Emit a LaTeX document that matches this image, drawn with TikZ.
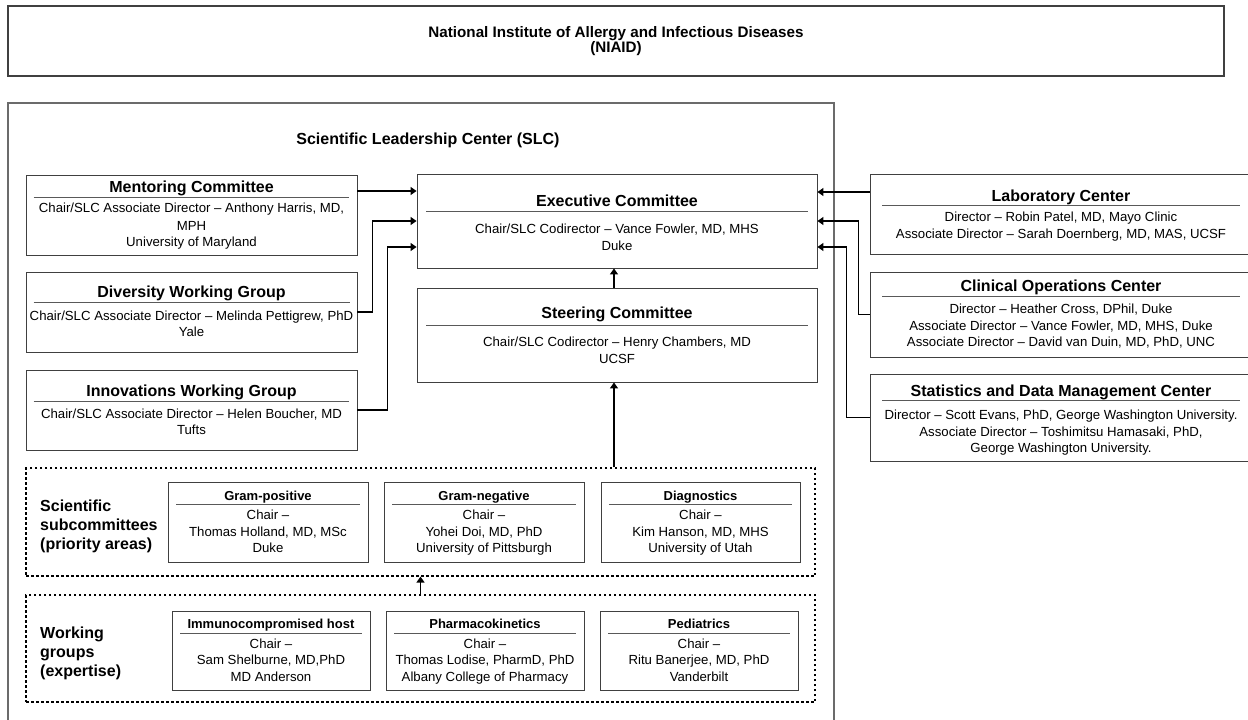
\documentclass[tikz,border=0pt]{standalone}
\usepackage{fontspec}
\setmainfont{Liberation Sans}
\usetikzlibrary{arrows.meta}
\definecolor{boxgray}{gray}{0.25}
\definecolor{slcgray}{gray}{0.42}
\definecolor{rulegray}{gray}{0.35}
\newcommand{\bighead}{\fontsize{16}{18}\selectfont\bfseries}
\newcommand{\smallhead}{\fontsize{13}{15}\selectfont\bfseries}
\newcommand{\headrule}[1]{{\color{rulegray}\rule{#1}{0.9pt}}}
\newcommand{\topstrut}[1]{\rule{0pt}{#1}}

\begin{document}
\begin{tikzpicture}[x=1pt,y=-1pt]
		\tikzstyle{unit}=[draw=boxgray,line width=0.9pt,align=center,inner sep=0pt,font=\fontsize{13.2}{16.5}\selectfont]
		\tikzstyle{area}=[draw=black,line width=1.2pt,dash pattern=on 2.5pt off 2.5pt,inner sep=0pt]
		\tikzstyle{feed}=[draw=black,line width=1.3pt,-{Triangle[length=6pt,width=8pt]}]
		\tikzstyle{arealabel}=[anchor=west,align=left,inner sep=0pt,font=\fontsize{16}{19}\selectfont\bfseries]
		\path[use as bounding box] (0,0) rectangle (1248,720);
		\clip (0,0) rectangle (1248,720);
		\node[unit,line width=1.1pt,minimum width=1216pt,minimum height=70pt,font=\fontsize{15.2}{15}\selectfont\bfseries] (niaid) at (616,41) {National Institute of Allergy and Infectious Diseases\\(NIAID)};
		% SLC frame, cut off at the bottom
		\draw[slcgray,line width=1.5pt] (8,725) -- (8,103) -- (834,103) -- (834,725);
		\node[inner sep=0pt,font=\bighead] (slc) at (428,140) {Scientific Leadership Center (SLC)};
		\node[unit,minimum width=331pt,minimum height=80pt] (mentor) at (191.5,215) {{\bighead\topstrut{13.9pt}Mentoring Committee}\\[-11pt]\headrule{316pt}\\[-1.5pt]Chair/SLC Associate Director -- Anthony Harris, MD,\\[1pt]MPH\\University of Maryland\strut};
		\node[unit,minimum width=331pt,minimum height=80pt] (divers) at (191.5,312) {{\bighead\topstrut{15.4pt}Diversity Working Group}\\[-11pt]\headrule{316pt}\\[0.5pt]Chair/SLC Associate Director -- Melinda Pettigrew, PhD\\Yale\strut};
		\node[unit,minimum width=331pt,minimum height=80pt] (innov) at (191.5,410) {{\bighead\topstrut{16.4pt}Innovations Working Group}\\[-11pt]\headrule{316pt}\\[-0.5pt]Chair/SLC Associate Director -- Helen Boucher, MD\\Tufts\strut};
		\node[unit,minimum width=400pt,minimum height=94pt] (exec) at (617,221) {{\bighead\topstrut{19.9pt}Executive Committee}\\[-11pt]\headrule{382pt}\\[5pt]Chair/SLC Codirector -- Vance Fowler, MD, MHS\\[0.5pt]Duke\strut};
		\node[unit,minimum width=400pt,minimum height=94pt] (steer) at (617,335) {{\bighead\topstrut{16.9pt}Steering Committee}\\[-9pt]\headrule{382pt}\\[4pt]Chair/SLC Codirector -- Henry Chambers, MD\\[0.5pt]UCSF\strut};
		\node[unit,minimum width=382pt,minimum height=80pt] (lab) at (1061,214) {{\bighead\topstrut{17.4pt}Laboratory Center}\\[-12pt]\headrule{358pt}\\[-0.5pt]Director -- Robin Patel, MD, Mayo Clinic\\[0.5pt]Associate Director -- Sarah Doernberg, MD, MAS, UCSF\strut};
		\node[unit,minimum width=382pt,minimum height=85pt] (clinops) at (1061,314.5) {{\bighead\topstrut{14.4pt}Clinical Operations Center}\\[-11pt]\headrule{358pt}\\[0pt]Director -- Heather Cross, DPhil, Duke\\Associate Director -- Vance Fowler, MD, MHS, Duke\\Associate Director -- David van Duin, MD, PhD, UNC\strut};
		\node[unit,minimum width=382pt,minimum height=87pt] (stats) at (1061,417.5) {{\bighead\topstrut{19.4pt}Statistics and Data Management Center}\\[-12pt]\headrule{358pt}\\[2pt]Director -- Scott Evans, PhD, George Washington University.\\Associate Director -- Toshimitsu Hamasaki, PhD,\\George Washington University.\strut};
		\node[area,minimum width=789pt,minimum height=108pt] (subcom) at (420.5,522) {};
		\node[area,minimum width=789pt,minimum height=107pt] (wgroups) at (420.5,648.5) {};
		\node[arealabel] (subcomlabel) at (40,526) {Scientific\\subcommittees\\(priority areas)};
		\node[arealabel] (wglabel) at (40,653.5) {Working\\groups\\(expertise)};
		\node[unit,minimum width=200pt,minimum height=80pt] (grampos) at (268,522) {{\smallhead\topstrut{14pt}Gram-positive}\\[-11.7pt]\headrule{184pt}\\[-1.5pt]Chair --\\Thomas Holland, MD, MSc\\Duke\strut};
		\node[unit,minimum width=200pt,minimum height=80pt] (gramneg) at (484,522) {{\smallhead\topstrut{14pt}Gram-negative}\\[-11.7pt]\headrule{184pt}\\[-1.5pt]Chair --\\Yohei Doi, MD, PhD\\University of Pittsburgh\strut};
		\node[unit,minimum width=199pt,minimum height=80pt] (diag) at (700.5,522) {{\smallhead\topstrut{14pt}Diagnostics}\\[-11.7pt]\headrule{183pt}\\[-1.5pt]Chair --\\Kim Hanson, MD, MHS\\University of Utah\strut};
		\node[unit,minimum width=198pt,minimum height=79pt] (immuno) at (271,650.5) {{\smallhead\topstrut{14pt}Immunocompromised host}\\[-11.7pt]\headrule{182pt}\\[-1.5pt]Chair --\\Sam Shelburne, MD,PhD\\MD Anderson\strut};
		\node[unit,minimum width=198pt,minimum height=79pt] (pharma) at (485,650.5) {{\smallhead\topstrut{14pt}Pharmacokinetics}\\[-11.7pt]\headrule{182pt}\\[-1.5pt]Chair --\\Thomas Lodise, PharmD, PhD\\Albany College of Pharmacy\strut};
		\node[unit,minimum width=198pt,minimum height=79pt] (pedi) at (699,650.5) {{\smallhead\topstrut{14pt}Pediatrics}\\[-11.7pt]\headrule{182pt}\\[-1.5pt]Chair --\\Ritu Banerjee, MD, PhD\\Vanderbilt\strut};
		% links into the executive committee
		\draw[feed] ([yshift=24pt]mentor.east) -- ([yshift=30pt]exec.west);
		\draw[feed] (divers.east) -- ++(15,0) |- (exec.west);
		\draw[feed] (innov.east) -- ++(30,0) |- ([yshift=-26pt]exec.west);
		\draw[feed] ([yshift=22pt]lab.west) -- ([yshift=29pt]exec.east);
		\draw[feed] (clinops.west) -- ++(-11,0) |- (exec.east);
		\draw[feed] (stats.west) -- ++(-23,0) |- ([yshift=-26pt]exec.east);
		\coordinate (spine) at ([xshift=-3pt]steer.south);
		\draw[feed] ([xshift=-3pt]steer.north) -- ([xshift=-3pt]exec.south);
		\draw[feed] (spine |- subcom.north) -- (spine);
		\draw[feed] (wgroups.north) -- (subcom.south);
	\end{tikzpicture}
\end{document}
